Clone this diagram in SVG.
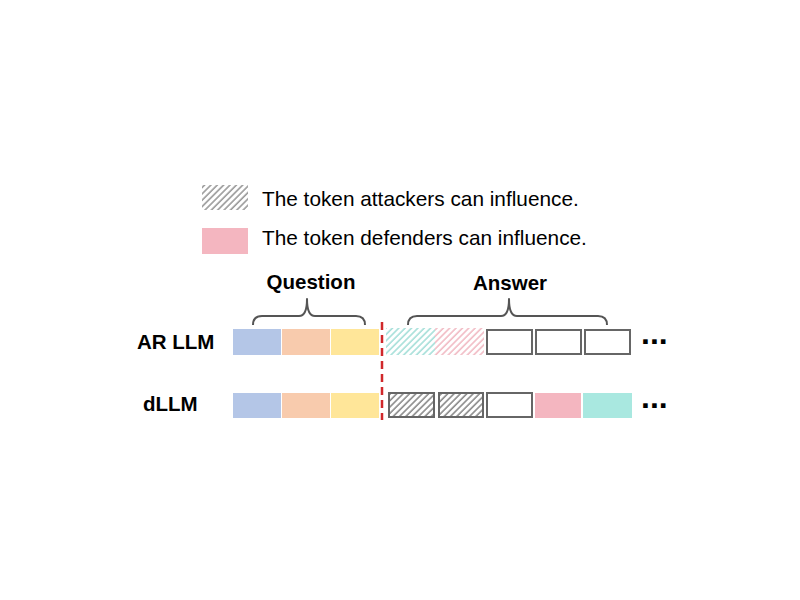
<svg xmlns="http://www.w3.org/2000/svg" width="800" height="600" viewBox="0 0 800 600">
  <style>
    .lbl { font-family: "Liberation Sans", Arial, sans-serif; font-size: 20.5px; fill: #000; }
    .bold { font-weight: bold; }
    .legend { font-size: 20.8px; }
    .dots { font-family: "Liberation Sans", Arial, sans-serif; font-size: 32px; font-weight: bold; fill: #000; }
    .box { fill: #fff; stroke: #666; stroke-width: 2; }
    .hbox { stroke: #666; stroke-width: 2; }
    .brace { fill: none; stroke: #555; stroke-width: 2; stroke-linejoin: round; }
  </style>
  <defs>
    <pattern id="hatchGray" patternUnits="userSpaceOnUse" width="4.5" height="4.5" patternTransform="rotate(45)">
      <rect width="4.5" height="4.5" fill="#fff"/>
      <line x1="1" y1="0" x2="1" y2="4.5" stroke="#9a9a9a" stroke-width="1.6"/>
    </pattern>
    <pattern id="hatchDark" patternUnits="userSpaceOnUse" width="4.5" height="4.5" patternTransform="rotate(45)">
      <rect width="4.5" height="4.5" fill="#fff"/>
      <line x1="1" y1="0" x2="1" y2="4.5" stroke="#8a8a8a" stroke-width="1.6"/>
    </pattern>
    <pattern id="hatchCyan" patternUnits="userSpaceOnUse" width="4.5" height="4.5" patternTransform="rotate(45)">
      <rect width="4.5" height="4.5" fill="#fff"/>
      <line x1="1" y1="0" x2="1" y2="4.5" stroke="#a6dfd9" stroke-width="1.6"/>
    </pattern>
    <pattern id="hatchPink" patternUnits="userSpaceOnUse" width="4.5" height="4.5" patternTransform="rotate(45)">
      <rect width="4.5" height="4.5" fill="#fff"/>
      <line x1="1" y1="0" x2="1" y2="4.5" stroke="#f1bcc5" stroke-width="1.6"/>
    </pattern>
  </defs>
  <rect width="800" height="600" fill="#fff"/>

  <g id="legend">
    <rect x="202" y="185" width="46" height="25" fill="url(#hatchGray)"/>
    <text class="lbl legend" x="262" y="206">The token attackers can influence.</text>
    <rect x="202" y="228" width="46" height="26" fill="#f4b6c0"/>
    <text class="lbl legend" x="262" y="245">The token defenders can influence.</text>
  </g>

  <g id="labels">
    <text class="lbl bold" x="137" y="349">AR LLM</text>
    <text class="lbl bold" x="143" y="411">dLLM</text>
    <text class="lbl bold" x="311" y="289" text-anchor="middle">Question</text>
    <text class="lbl bold" x="510" y="290" text-anchor="middle">Answer</text>
  </g>

  <g id="connectors">
    <path class="brace" d="M253,325 Q253,316 262,316 L299,316 Q307,316 307,299 Q307,316 315,316 L356,316 Q365,316 365,325"/>
    <path class="brace" d="M408,325 Q408,316 417,316 L501,316 Q509,316 509,299 Q509,316 517,316 L598,316 Q607,316 607,325"/>
    <line x1="382" y1="322" x2="382" y2="420" stroke="#d0282b" stroke-width="2.5" stroke-dasharray="8,5"/>
  </g>

  <g id="ar-row">
    <rect x="233" y="329" width="48" height="26" fill="#b4c6e7"/>
    <rect x="282" y="329" width="48" height="26" fill="#f8cbad"/>
    <rect x="331" y="329" width="48" height="26" fill="#ffe699"/>
    <rect x="386" y="328" width="49" height="27" fill="url(#hatchCyan)"/>
    <rect x="435" y="328" width="49" height="27" fill="url(#hatchPink)"/>
    <rect class="box" x="487" y="330" width="45" height="24"/>
    <rect class="box" x="536" y="330" width="45" height="24"/>
    <rect class="box" x="585" y="330" width="45" height="24"/>
    <text class="dots" x="641" y="344">...</text>
  </g>

  <g id="dllm-row">
    <rect x="233" y="393" width="48" height="25" fill="#b4c6e7"/>
    <rect x="282" y="393" width="48" height="25" fill="#f8cbad"/>
    <rect x="331" y="393" width="48" height="25" fill="#ffe699"/>
    <rect class="hbox" x="389" y="393" width="45" height="24" fill="url(#hatchDark)"/>
    <rect class="hbox" x="439" y="393" width="44" height="24" fill="url(#hatchDark)"/>
    <rect class="box" x="487" y="393" width="45" height="24"/>
    <rect x="535" y="393" width="46" height="25" fill="#f4b6c0"/>
    <rect x="583" y="393" width="49" height="25" fill="#a9e8e0"/>
    <text class="dots" x="641" y="408">...</text>
  </g>
</svg>
